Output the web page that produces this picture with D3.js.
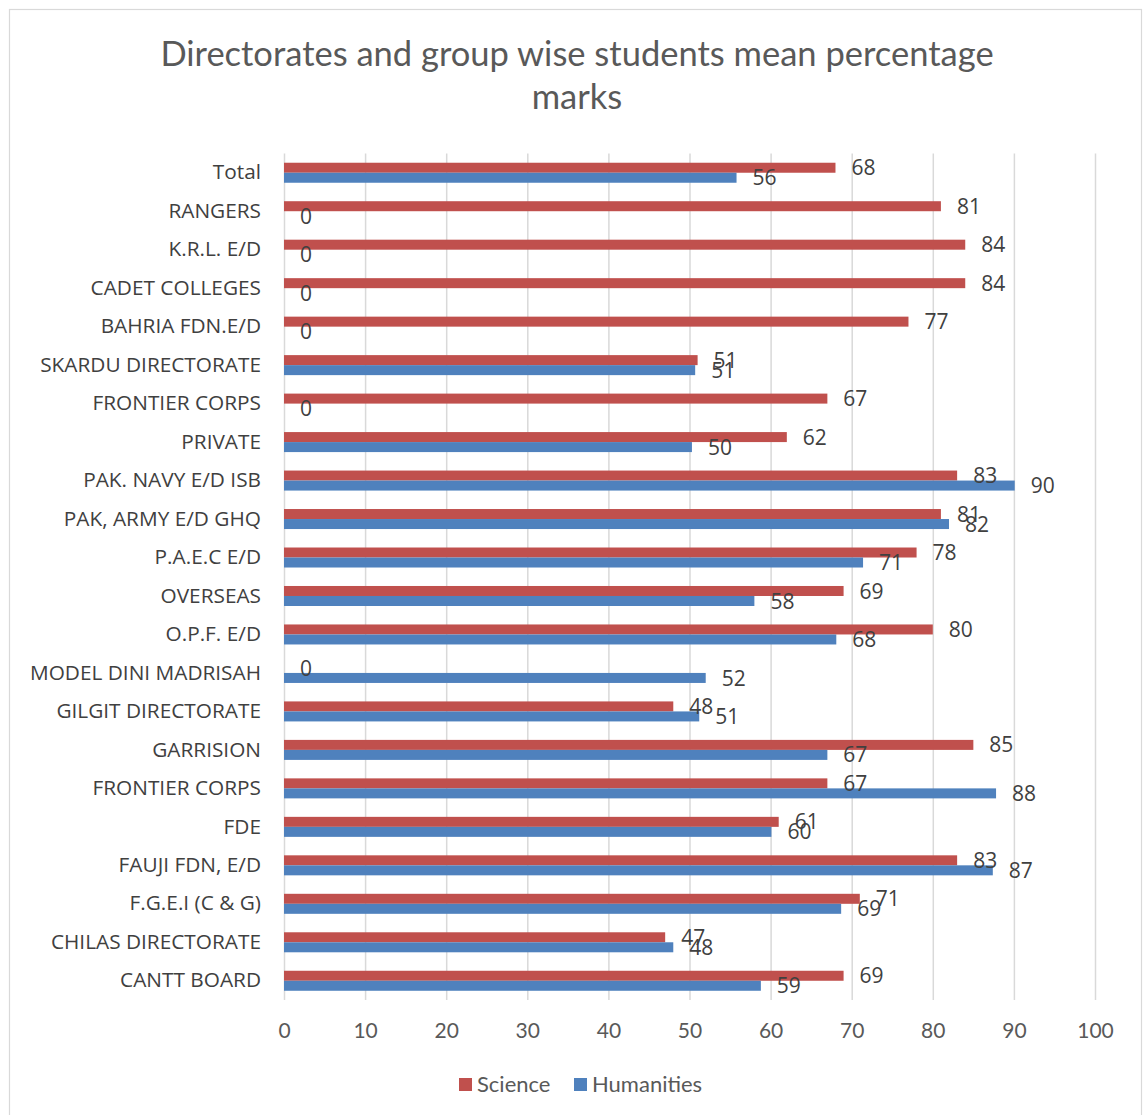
<!DOCTYPE html>
<html><head><meta charset="utf-8">
<script src="https://cdn.jsdelivr.net/npm/d3@7"></script>
<style>body{margin:0;background:#fff}svg{display:block}</style>
</head><body>
<script>
// Categories listed bottom -> top (as in the chart's value axis order)
const categories = ["CANTT BOARD","CHILAS DIRECTORATE","F.G.E.I (C & G)","FAUJI FDN, E/D","FDE","FRONTIER CORPS","GARRISION","GILGIT DIRECTORATE","MODEL DINI MADRISAH","O.P.F. E/D","OVERSEAS","P.A.E.C E/D","PAK, ARMY E/D GHQ","PAK. NAVY E/D ISB","PRIVATE","FRONTIER CORPS","SKARDU DIRECTORATE","BAHRIA FDN.E/D","CADET COLLEGES","K.R.L. E/D","RANGERS","Total"];
const science    = [69.0, 47.0, 71.0, 83.0, 61.0, 67.0, 85.0, 48.0, 0, 80.0, 69.0, 78.0, 81.0, 83.0, 62.0, 67.0, 51.0, 77.0, 84.0, 84.0, 81.0, 68.0];
const humanities = [58.8, 48.0, 68.7, 87.4, 60.1, 87.8, 67.0, 51.2, 52.0, 68.1, 58.0, 71.4, 82.0, 90.1, 50.3, 0, 50.7, 0, 0, 0, 0, 55.8];
const xTicks = [0,10,20,30,40,50,60,70,80,90,100];
const seriesNames = ["Science","Humanities"];
const seriesColors = ["#C0504D","#4F81BD"];
const titleLines = ["Directorates and group wise students mean percentage","marks"];

const W = 1144, H = 1115;
const svg = d3.select("body").append("svg").attr("width", W).attr("height", H);
svg.append("rect").attr("x", 9.5).attr("y", 9.5).attr("width", 1132).attr("height", 1120)
  .attr("fill", "#fff").attr("stroke", "#d9d9d9").attr("stroke-width", 1.2);

const m = {left: 284, right: 1095, top: 153.5, bottom: 1000};
const x = d3.scaleLinear().domain([0, 100]).range([m.left, m.right]);
const idx = d3.range(categories.length);
const y = d3.scaleBand().domain(idx).range([m.bottom, m.top]).paddingInner(0.48).paddingOuter(0.24);
const ys = d3.scaleBand().domain([0, 1]).range([0, y.bandwidth()]);

// title
svg.append("g").selectAll("text").data(titleLines).join("text")
  .attr("x", 577).attr("y", (d, i) => 66 + i * 43)
  .attr("text-anchor", "middle")
  .attr("font-family", "Lato, sans-serif").attr("font-size", 34.5)
  .attr("fill", "#595959").text(d => d);

// x axis with gridlines
const xAxis = svg.append("g").attr("transform", `translate(0,${m.bottom})`)
  .call(d3.axisBottom(x).tickValues(xTicks).tickSize(-(m.bottom - m.top)).tickFormat(d3.format("d")));
xAxis.select(".domain").remove();
xAxis.selectAll(".tick line").attr("stroke", "#d9d9d9").attr("stroke-width", 1.5);
xAxis.selectAll(".tick text").attr("y", 31).attr("dy", "0.35em")
  .attr("font-family", "Lato, sans-serif").attr("font-size", 21).attr("fill", "#595959");

// y axis labels
const yAxis = svg.append("g").attr("transform", `translate(${m.left},0)`)
  .call(d3.axisLeft(y).tickFormat(i => categories[i]).tickSize(0).tickPadding(23));
yAxis.select(".domain").remove();
yAxis.selectAll(".tick text").attr("font-family", "'Open Sans', sans-serif").attr("font-size", 20.8).attr("fill", "#404040");

// bars
const series = [science, humanities];
const rows = [];
series.forEach((vals, s) => vals.forEach((v, i) => rows.push({s, i, v})));
svg.append("g").selectAll("rect").data(rows).join("rect")
  .attr("x", x(0))
  .attr("y", d => y(d.i) + ys(d.s))
  .attr("width", d => x(d.v) - x(0))
  .attr("height", ys.bandwidth())
  .attr("fill", d => seriesColors[d.s]);

// data labels
svg.append("g").selectAll("text").data(rows).join("text")
  .attr("x", d => x(d.v) + 16)
  .attr("y", d => y(d.i) + ys(d.s) + ys.bandwidth() / 2)
  .attr("dy", "0.36em")
  .attr("font-family", "'Open Sans', sans-serif").attr("font-size", 21)
  .attr("fill", "#404040")
  .text(d => d3.format(".0f")(d.v));

// legend
const legendX = [459, 574];
const lg = svg.append("g").selectAll("g").data(seriesNames).join("g")
  .attr("transform", (d, i) => `translate(${legendX[i]},1078)`);
lg.append("rect").attr("width", 13).attr("height", 13).attr("fill", (d, i) => seriesColors[i]);
lg.append("text").attr("x", 18).attr("y", 6.5).attr("dy", "0.36em")
  .attr("font-family", "Lato, sans-serif").attr("font-size", 22).attr("fill", "#595959")
  .text(d => d);
</script>
</body></html>
